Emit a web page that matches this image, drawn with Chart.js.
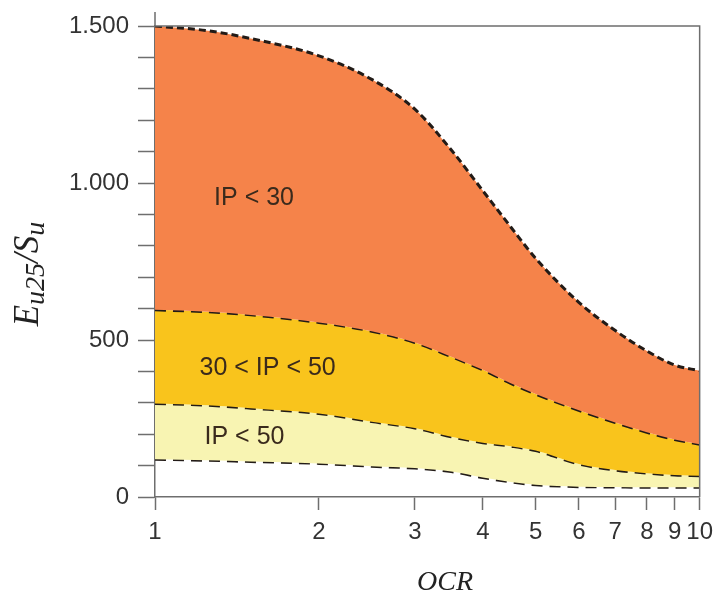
<!DOCTYPE html>
<html>
<head>
<meta charset="utf-8">
<script src="https://cdn.jsdelivr.net/npm/chart.js@4/dist/chart.umd.min.js"></script>
<style>
  html, body { margin: 0; padding: 0; background: #ffffff; }
  canvas { display: block; }
</style>
</head>
<body>
<canvas id="c" width="721" height="594"></canvas>
<script>
// OCR values (log axis)
const ocrValues = [1, 1.25, 1.5, 2, 2.5, 3, 3.5, 4, 4.5, 5, 6, 7, 8, 9, 10];
// Boundary curves Eu25/Su
const upperIP30 = [1500, 1485, 1460, 1405, 1330, 1235, 1105, 975, 860, 760, 620, 530, 465, 420, 402];
const ip30to50  = [596, 590, 580, 556, 528, 492, 447, 405, 362, 328, 276, 237, 206, 183, 168];
const ip50      = [298, 292, 283, 266, 240, 220, 192, 173, 162, 148, 105, 86, 76, 70, 68];
const lowerIP50 = [120, 117, 113, 107, 98, 92, 81, 62, 48, 39, 33, 32, 31, 31, 31];
// Axis ticks
const xTicks = [1, 2, 3, 4, 5, 6, 7, 8, 9, 10];
const yLabelled = [0, 500, 1000, 1500];
// Region labels: [text, OCR, value]
const regionLabels = [
  ["IP < 30", 1.52, 952],
  ["30 < IP < 50", 1.61, 411],
  ["IP < 50", 1.46, 191]
];

const pts = arr => ocrValues.map((x, i) => ({ x: x, y: arr[i] }));
const dashColor = '#221b17';
const axisColor = '#6e6e6e';

const framePlugin = {
  id: 'frame',
  beforeDraw(chart) {
    const ctx = chart.ctx;
    ctx.save();
    ctx.fillStyle = '#ffffff';
    ctx.fillRect(0, 0, chart.width, chart.height);
    ctx.restore();
  },
  afterDraw(chart) {
    const ctx = chart.ctx;
    const a = chart.chartArea;
    ctx.save();
    ctx.strokeStyle = axisColor;
    ctx.lineWidth = 1.5;
    ctx.beginPath();
    ctx.moveTo(a.left, a.top - 14);
    ctx.lineTo(a.left, a.top);
    ctx.lineTo(a.right, a.top);
    ctx.lineTo(a.right, a.bottom);
    ctx.stroke();
    // region labels
    const xs = chart.scales.x, ys = chart.scales.y;
    ctx.fillStyle = '#3a2a1c';
    ctx.font = '25px "Liberation Sans", Arial, sans-serif';
    ctx.textAlign = 'center';
    ctx.textBaseline = 'middle';
    regionLabels.forEach(([t, xv, yv]) => {
      ctx.fillText(t, xs.getPixelForValue(xv), ys.getPixelForValue(yv));
    });
    // y title with subscripts
    ctx.save();
    ctx.translate(38, 274);
    ctx.rotate(-Math.PI / 2);
    ctx.fillStyle = '#222222';
    ctx.textAlign = 'left';
    ctx.textBaseline = 'alphabetic';
    const parts = [
      ['E', 35, 0], ['u25', 28, 6], ['/', 35, 0], ['S', 35, 0], ['u', 28, 6]
    ];
    let total = 0;
    parts.forEach(([t, s]) => { ctx.font = 'italic ' + s + 'px "Liberation Serif", "Times New Roman", serif'; total += ctx.measureText(t).width; });
    let cx = -total / 2;
    parts.forEach(([t, s, dy]) => {
      ctx.font = 'italic ' + s + 'px "Liberation Serif", "Times New Roman", serif';
      ctx.fillText(t, cx, dy);
      cx += ctx.measureText(t).width;
    });
    ctx.restore();
    // x title
    ctx.fillStyle = '#222222';
    ctx.font = 'italic 28px "Liberation Serif", "Times New Roman", serif';
    ctx.textAlign = 'center';
    ctx.textBaseline = 'alphabetic';
    ctx.fillText('OCR', 445, 590);
    ctx.restore();
  }
};

const common = { borderColor: dashColor, borderWidth: 3, pointRadius: 0, cubicInterpolationMode: 'monotone' };

new Chart(document.getElementById('c'), {
  type: 'line',
  data: {
    datasets: [
      Object.assign({ label: 'IP < 30', data: pts(upperIP30), fill: '+1', backgroundColor: '#f5834a', borderDash: [7, 4] }, common),
      Object.assign({ label: '30 < IP < 50', data: pts(ip30to50), fill: '+1', backgroundColor: '#f9c41c', borderDash: [11, 7] }, common),
      Object.assign({ label: 'IP < 50', data: pts(ip50), fill: '+1', backgroundColor: '#f8f4b2', borderDash: [11, 7] }, common),
      Object.assign({ label: 'lower', data: pts(lowerIP50), fill: false, borderDash: [11, 7] }, common)
    ]
  },
  options: {
    responsive: false,
    animation: false,
    devicePixelRatio: 1,
    layout: { padding: { top: 26, right: 18, left: 0, bottom: 0 } },
    plugins: { legend: { display: false }, tooltip: { enabled: false } },
    scales: {
      x: {
        type: 'logarithmic',
        min: 1, max: 10,
        afterFit(s) { s.height = 97; },
        afterBuildTicks(s) { s.ticks = xTicks.map(v => ({ value: v })); },
        grid: { drawOnChartArea: false, drawTicks: true, tickLength: 13, tickColor: axisColor, tickWidth: 1.5 },
        border: { color: axisColor, width: 1.5 },
        ticks: {
          autoSkip: false, maxRotation: 0, minRotation: 0, padding: 8,
          color: '#333333',
          font: { family: '"Liberation Sans", Arial, sans-serif', size: 24 },
          callback: v => String(v)
        }
      },
      y: {
        min: 0, max: 1500,
        afterFit(s) { s.width = 155; },
        grid: { drawOnChartArea: false, drawTicks: true, tickLength: 17, tickColor: axisColor, tickWidth: 1.5 },
        border: { color: axisColor, width: 1.5 },
        ticks: {
          stepSize: 100, padding: 9, autoSkip: false,
          color: '#333333',
          font: { family: '"Liberation Sans", Arial, sans-serif', size: 24 },
          callback: v => yLabelled.includes(v) ? (v >= 1000 ? Math.floor(v / 1000) + '.' + String(v % 1000).padStart(3, '0') : String(v)) : ''
        }
      }
    }
  },
  plugins: [framePlugin]
});
</script>
</body>
</html>
